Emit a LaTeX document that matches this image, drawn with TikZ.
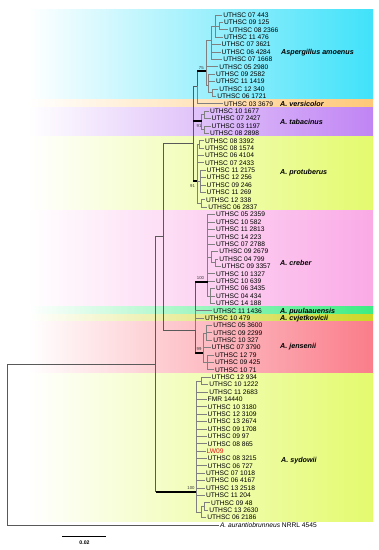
\documentclass[tikz,border=0pt]{standalone}
\usepackage{fontspec}
\setmainfont{Liberation Sans}
\definecolor{cAm}{RGB}{64,226,250}
\definecolor{cVe}{RGB}{255,200,120}
\definecolor{cTa}{RGB}{192,132,244}
\definecolor{cPr}{RGB}{228,250,110}
\definecolor{cCr}{RGB}{250,170,230}
\definecolor{cPu}{RGB}{60,236,130}
\definecolor{cCv}{RGB}{204,214,36}
\definecolor{cJe}{RGB}{250,125,138}
\definecolor{cSy}{RGB}{228,250,110}
\definecolor{lwred}{RGB}{235,20,20}
\newcommand\lf[4]{\node[leaf] (#1) at (#2,{15+7.39*#3}) {#4};}
\newcommand\edg[3][br]{\draw[#1] (#2) |- (#3);}
\newcommand\lnk[2]{\draw[tip] (#1) |- (#2.west);}
\newcommand\barto[2]{\draw[br] (#1) -- (#1|-#2); \draw[bar] (#1|-#2) -- (#2);}
\newcommand\band[3]{\shade[left color=white,right color=#1] (28,#2) rectangle (373,#3);}
\begin{document}
\begin{tikzpicture}[x=1bp,y=-1bp,
  leaf/.style={anchor=west,inner sep=0.8bp,text height=4.8bp,text depth=0bp,font=\fontsize{6.7}{7}\selectfont},
  clade/.style={anchor=west,inner sep=0bp,text height=5.2bp,text depth=0bp,font=\fontsize{7.2}{8}\selectfont\bfseries\itshape},
  br/.style={draw=black!65,line width=0.7bp},
  tip/.style={draw=black!50,line width=0.6bp},
  bar/.style={draw=black,line width=2.2bp},
  bs/.style={inner sep=0.3bp,font=\fontsize{4.3}{5}\selectfont,text=black!80}]
\useasboundingbox (0,0) rectangle (378,550);
\fill[white] (0,0) rectangle (378,550);
% bands
\band{cAm}{10}{99.6}
\band{cVe}{99.6}{107.4}
\band{cTa}{107.4}{136.9}
\band{cPr}{136.9}{210.8}
\band{cCr}{210.8}{306.9}
\band{cPu}{306.9}{314.3}
\band{cCv}{314.3}{321.7}
\band{cJe}{321.7}{373.4}
\band{cSy}{373.4}{521.2}
% leaves: amoenus
\lf{a0}{222.3}{0}{UTHSC 07 443}
\lf{a1}{223}{1}{UTHSC 09 125}
\lf{a2}{228.3}{2}{UTHSC 08 2366}
\lf{a3}{223}{3}{UTHSC 11 476}
\lf{a4}{220.7}{4}{UTHSC 07 3621}
\lf{a5}{220.7}{5}{UTHSC 06 4284}
\lf{a6}{222.3}{6}{UTHSC 07 1668}
\lf{a7}{218.3}{7}{UTHSC 05 2980}
\lf{a8}{215}{8}{UTHSC 09 2582}
\lf{a9}{215}{9}{UTHSC 11 1419}
\lf{a10}{218.3}{10}{UTHSC 12 340}
\lf{a11}{216.3}{11}{UTHSC 06 1721}
\lf{v12}{223}{12}{UTHSC 03 3679}
% tabacinus
\lf{t13}{209}{13}{UTHSC 10 1677}
\lf{t14}{210.7}{14}{UTHSC 07 2427}
\lf{t15}{210.7}{15}{UTHSC 03 1197}
\lf{t16}{209}{16}{UTHSC 08 2898}
% protuberus
\lf{p17}{204}{17}{UTHSC 08 3392}
\lf{p18}{204}{18}{UTHSC 08 1574}
\lf{p19}{204}{19}{UTHSC 06 4104}
\lf{p20}{204}{20}{UTHSC 07 2433}
\lf{p21}{205.7}{21}{UTHSC 11 2175}
\lf{p22}{205.7}{22}{UTHSC 12 256}
\lf{p23}{205.7}{23}{UTHSC 09 246}
\lf{p24}{205.7}{24}{UTHSC 11 269}
\lf{p25}{205}{25}{UTHSC 12 338}
\lf{p26}{207.3}{26}{UTHSC 06 2837}
% creber
\lf{c27}{215}{27}{UTHSC 05 2359}
\lf{c28}{215}{28}{UTHSC 10 582}
\lf{c29}{215}{29}{UTHSC 11 2813}
\lf{c30}{215}{30}{UTHSC 14 223}
\lf{c31}{215}{31}{UTHSC 07 2788}
\lf{c32}{218.3}{32}{UTHSC 09 2679}
\lf{c33}{218.3}{33}{UTHSC 04 799}
\lf{c34}{220.7}{34}{UTHSC 09 3357}
\lf{c35}{215}{35}{UTHSC 10 1327}
\lf{c36}{215}{36}{UTHSC 10 639}
\lf{c37}{215}{37}{UTHSC 06 3435}
\lf{c38}{215}{38}{UTHSC 04 434}
\lf{c39}{215}{39}{UTHSC 14 188}
\lf{u40}{212.3}{40}{UTHSC 11 1436}
\lf{k41}{204}{41}{UTHSC 10 479}
% jensenii
\lf{j42}{212.3}{42}{UTHSC 05 3600}
\lf{j43}{212.3}{43}{UTHSC 09 2299}
\lf{j44}{212.3}{44}{UTHSC 10 327}
\lf{j45}{210.7}{45}{UTHSC 07 3790}
\lf{j46}{214}{46}{UTHSC 12 79}
\lf{j47}{214}{47}{UTHSC 09 425}
\lf{j48}{214}{48}{UTHSC 10 71}
% sydowii
\lf{s49}{210.7}{49}{UTHSC 12 934}
\lf{s50}{208.3}{50}{UTHSC 10 1222}
\lf{s51}{208.3}{51}{UTHSC 11 2683}
\lf{s52}{206.7}{52}{FMR 14440}
\lf{s53}{206.7}{53}{UTHSC 10 3180}
\lf{s54}{206.7}{54}{UTHSC 12 3109}
\lf{s55}{206.7}{55}{UTHSC 13 2674}
\lf{s56}{206.7}{56}{UTHSC 09 1708}
\lf{s57}{206.7}{57}{UTHSC 09 97}
\lf{s58}{206.7}{58}{UTHSC 08 865}
\lf{s59}{205.7}{59}{\textcolor{lwred}{LW09}}
\lf{s60}{206.7}{60}{UTHSC 08 3215}
\lf{s61}{206.7}{61}{UTHSC 06 727}
\lf{s62}{205}{62}{UTHSC 07 1018}
\lf{s63}{205}{63}{UTHSC 06 4167}
\lf{s64}{205}{64}{UTHSC 13 2518}
\lf{s65}{205}{65}{UTHSC 11 204}
\lf{s66}{210}{66}{UTHSC 09 48}
\lf{s67}{208.3}{67}{UTHSC 13 2630}
\lf{s68}{206.3}{68}{UTHSC 06 2186}
\lf{og}{219}{69}{\textit{A. aurantiobrunneus} NRRL 4545}
% internal nodes
\coordinate (A4) at (219,26.1);
\coordinate (A3) at (215,26.1);
\coordinate (A1) at (211,40);
\coordinate (A5) at (212,92.6);
\coordinate (A2) at (208,85);
\coordinate (A0) at (206,71);
\coordinate (AV) at (197,86);
\coordinate (T1) at (204.5,114.8);
\coordinate (T2) at (204.5,129.5);
\coordinate (T) at (201.7,121);
\coordinate (P0) at (199.5,144.3);
\coordinate (P1) at (200.5,181.3);
\coordinate (P2) at (201.5,203.5);
\coordinate (P) at (197.3,181.3);
\coordinate (U) at (193.3,143.7);
\coordinate (C2) at (215,262.6);
\coordinate (C1) at (211,257);
\coordinate (C3) at (210,295.8);
\coordinate (C) at (207.5,281.7);
\coordinate (J1) at (206,332.8);
\coordinate (J2) at (207,362.4);
\coordinate (J) at (203.3,353.3);
\coordinate (L) at (195,330);
\coordinate (N1) at (163.3,236.7);
\coordinate (S1) at (201,380.8);
\coordinate (S3) at (204,506.5);
\coordinate (S2) at (201,512);
\coordinate (S) at (196,491.7);
\coordinate (I) at (155.7,364.3);
\coordinate (R) at (7.3,444.6);
% edges amoenus
\lnk{A4}{a1}\lnk{A4}{a2}
\lnk{A3}{a0}\edg[tip]{A3}{A4}\lnk{A3}{a3}
\edg[tip]{A1}{A3}\lnk{A1}{a4}\lnk{A1}{a5}\lnk{A1}{a6}
\lnk{A5}{a10}\lnk{A5}{a11}
\lnk{A2}{a8}\lnk{A2}{a9}\edg[tip]{A2}{A5}
\edg[tip]{A0}{A1}\lnk{A0}{a7}\edg[tip]{A0}{A2}
\barto{AV}{A0}\lnk{AV}{v12}
% tabacinus
\lnk{T1}{t13}\lnk{T1}{t14}\lnk{T2}{t15}\lnk{T2}{t16}
\edg[tip]{T}{T1}\edg[tip]{T}{T2}
% protuberus
\lnk{P0}{p17}\lnk{P0}{p18}
\lnk{P1}{p21}\lnk{P1}{p22}\lnk{P1}{p23}\lnk{P1}{p24}
\lnk{P2}{p25}\lnk{P2}{p26}
\edg[tip]{P}{P0}\lnk{P}{p19}\lnk{P}{p20}\edg[tip]{P}{P1}\edg[tip]{P}{P2}
% upper group
\edg{U}{AV}\barto{U}{T}\barto{U}{P}
% creber
\lnk{C2}{c33}\lnk{C2}{c34}
\lnk{C1}{c32}\edg[tip]{C1}{C2}
\lnk{C3}{c37}\lnk{C3}{c38}\lnk{C3}{c39}
\lnk{C}{c27}\lnk{C}{c28}\lnk{C}{c29}\lnk{C}{c30}\lnk{C}{c31}
\edg[tip]{C}{C1}\lnk{C}{c35}\lnk{C}{c36}\edg[tip]{C}{C3}
% jensenii
\lnk{J1}{j42}\lnk{J1}{j43}\lnk{J1}{j44}
\lnk{J2}{j46}\lnk{J2}{j47}\lnk{J2}{j48}
\edg[tip]{J}{J1}\lnk{J}{j45}\edg[tip]{J}{J2}
% lower group
\barto{L}{C}\lnk{L}{u40}\lnk{L}{k41}\barto{L}{J}
% sydowii
\lnk{S1}{s49}\lnk{S1}{s50}
\lnk{S3}{s66}\lnk{S3}{s67}
\edg[tip]{S2}{S3}\lnk{S2}{s68}
\edg[tip]{S}{S1}
\lnk{S}{s51}\lnk{S}{s52}\lnk{S}{s53}\lnk{S}{s54}\lnk{S}{s55}
\lnk{S}{s56}\lnk{S}{s57}\lnk{S}{s58}\lnk{S}{s59}\lnk{S}{s60}
\lnk{S}{s61}\lnk{S}{s62}\lnk{S}{s63}\lnk{S}{s64}\lnk{S}{s65}
\edg[tip]{S}{S2}
% backbone
\edg{N1}{U}\edg{N1}{L}
\edg{I}{N1}\barto{I}{S}
\edg{R}{I}\draw[br] (R) |- (og.west);
% bootstrap values
\node[bs] (b1) at (201.3,67.6) {75};
\node[bs] (b2) at (199,126.3) {91};
\node[bs] (b3) at (192.5,185.6) {91};
\node[bs] (b4) at (200.5,278.2) {100};
\node[bs] (b5) at (199,348.6) {99};
\node[bs] (b6) at (191,487.6) {100};
% clade names
\node[clade] (n1) at (281,52.3) {Aspergillus amoenus};
\node[clade] (n2) at (280,103.7) {A. versicolor};
\node[clade] (n3) at (280,121.7) {A. tabacinus};
\node[clade] (n4) at (280,171.7) {A. protuberus};
\node[clade] (n5) at (280,262.7) {A. creber};
\node[clade] (n6) at (280,310.6) {A. puulaauensis};
\node[clade] (n7) at (280,318) {A. cvjetkovicii};
\node[clade] (n8) at (280,346) {A. jensenii};
\node[clade] (n9) at (281,460) {A. sydowii};
% scale bar
\coordinate (sb1) at (62,536.3);
\coordinate (sb2) at (106,536.3);
\draw[black,line width=1bp] (sb1) -- (sb2);
\node[inner sep=0bp,font=\fontsize{5.2}{6}\selectfont\bfseries] (sbl) at (84.5,542.6) {0.02};
\end{tikzpicture}
\end{document}
